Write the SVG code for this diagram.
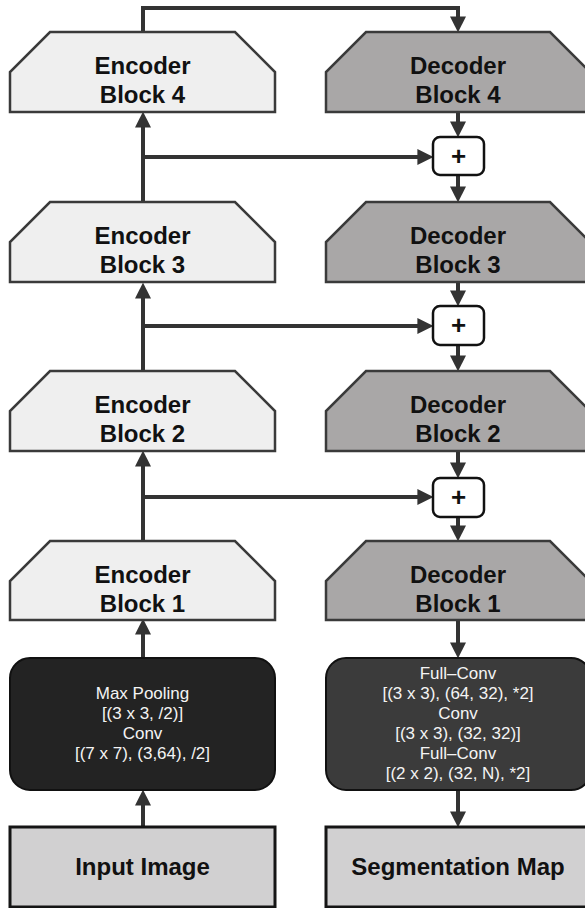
<svg xmlns="http://www.w3.org/2000/svg" width="585" height="908" viewBox="0 0 585 908">
  <style>
    .enc { fill: #efefef; stroke: #3a3a3a; stroke-width: 2.5; stroke-linejoin: miter; }
    .dec { fill: #a9a7a7; stroke: #3a3a3a; stroke-width: 2.5; stroke-linejoin: miter; }
    .title { font-family: "Liberation Sans", Arial, sans-serif; font-weight: 700; font-size: 24px; fill: #111; text-anchor: middle; }
    .io { fill: #d1d0d1; stroke: #151515; stroke-width: 3; }
    .conv-enc { fill: #232323; stroke: #111; stroke-width: 2; }
    .conv-dec { fill: #3b3b3b; stroke: #111; stroke-width: 2; }
    .small { font-family: "Liberation Sans", Arial, sans-serif; font-size: 17px; fill: #f4f4f4; text-anchor: middle; }
    .sum { fill: #ffffff; stroke: #111; stroke-width: 2.5; }
    .plus { font-family: "Liberation Sans", Arial, sans-serif; font-weight: 700; font-size: 26px; fill: #111; text-anchor: middle; }
    .wire { fill: none; stroke: #333; stroke-width: 4; stroke-linejoin: miter; }
    .wire-a { fill: none; stroke: #333; stroke-width: 4; marker-end: url(#head); }
  </style>
  <defs>
    <marker id="head" markerUnits="userSpaceOnUse" markerWidth="16" markerHeight="16" viewBox="0 0 15 15" refX="9" refY="7.5" orient="auto">
      <path d="M0,0 L15,7.5 L0,15 z" fill="#333"/>
    </marker>
  </defs>

  <!-- connectors -->
  <g id="connectors">
    <!-- bridge from the top encoder to the top decoder -->
    <path class="wire-a" d="M143,32 V8 H458 V26"/>
    <!-- encoder trunk -->
    <line class="wire-a" x1="143" y1="827" x2="143" y2="796"/>
    <line class="wire-a" x1="143" y1="658" x2="143" y2="625"/>
    <line class="wire-a" x1="143" y1="541" x2="143" y2="457"/>
    <line class="wire-a" x1="143" y1="371" x2="143" y2="289"/>
    <line class="wire-a" x1="143" y1="202" x2="143" y2="118"/>
    <!-- skip connections -->
    <line class="wire-a" x1="143" y1="157" x2="427" y2="157"/>
    <line class="wire-a" x1="143" y1="326" x2="427" y2="326"/>
    <line class="wire-a" x1="143" y1="497" x2="427" y2="497"/>
    <!-- decoder path -->
    <line class="wire-a" x1="458" y1="112" x2="458" y2="131"/>
    <line class="wire-a" x1="458" y1="175" x2="458" y2="196"/>
    <line class="wire-a" x1="458" y1="283" x2="458" y2="300"/>
    <line class="wire-a" x1="458" y1="345" x2="458" y2="365"/>
    <line class="wire-a" x1="458" y1="451" x2="458" y2="472"/>
    <line class="wire-a" x1="458" y1="517" x2="458" y2="535"/>
    <line class="wire-a" x1="458" y1="620" x2="458" y2="652"/>
    <line class="wire-a" x1="458" y1="790" x2="458" y2="821"/>
  </g>

  <!-- encoder blocks -->
  <g id="encoder-4">
    <polygon class="enc" points="50,32 235,32 275,72 275,112 10,112 10,72"/>
    <text class="title" x="142.5" y="74">Encoder</text>
    <text class="title" x="142.5" y="103">Block 4</text>
  </g>
  <g id="encoder-3">
    <polygon class="enc" points="50,202 235,202 275,242 275,282 10,282 10,242"/>
    <text class="title" x="142.5" y="244">Encoder</text>
    <text class="title" x="142.5" y="273">Block 3</text>
  </g>
  <g id="encoder-2">
    <polygon class="enc" points="50,371 235,371 275,411 275,451 10,451 10,411"/>
    <text class="title" x="142.5" y="413">Encoder</text>
    <text class="title" x="142.5" y="442">Block 2</text>
  </g>
  <g id="encoder-1">
    <polygon class="enc" points="50,541 235,541 275,581 275,620 10,620 10,581"/>
    <text class="title" x="142.5" y="583">Encoder</text>
    <text class="title" x="142.5" y="612">Block 1</text>
  </g>

  <!-- decoder blocks -->
  <g id="decoder-4">
    <polygon class="dec" points="366,32 550,32 590,72 590,112 326,112 326,72"/>
    <text class="title" x="458" y="74">Decoder</text>
    <text class="title" x="458" y="103">Block 4</text>
  </g>
  <g id="decoder-3">
    <polygon class="dec" points="366,202 550,202 590,242 590,282 326,282 326,242"/>
    <text class="title" x="458" y="244">Decoder</text>
    <text class="title" x="458" y="273">Block 3</text>
  </g>
  <g id="decoder-2">
    <polygon class="dec" points="366,371 550,371 590,411 590,451 326,451 326,411"/>
    <text class="title" x="458" y="413">Decoder</text>
    <text class="title" x="458" y="442">Block 2</text>
  </g>
  <g id="decoder-1">
    <polygon class="dec" points="366,541 550,541 590,581 590,620 326,620 326,581"/>
    <text class="title" x="458" y="583">Decoder</text>
    <text class="title" x="458" y="612">Block 1</text>
  </g>

  <!-- element-wise sums -->
  <g id="sum-4">
    <rect class="sum" x="433" y="137" width="51" height="38" rx="7"/>
    <text class="plus" x="458.5" y="165">+</text>
  </g>
  <g id="sum-3">
    <rect class="sum" x="433" y="306" width="51" height="39" rx="7"/>
    <text class="plus" x="458.5" y="334">+</text>
  </g>
  <g id="sum-2">
    <rect class="sum" x="433" y="478" width="51" height="39" rx="7"/>
    <text class="plus" x="458.5" y="506">+</text>
  </g>

  <!-- stem and head convolutions -->
  <g id="encoder-stem">
    <rect class="conv-enc" x="10" y="658" width="265" height="132" rx="20"/>
    <text class="small" x="142.5" y="699">Max Pooling</text>
    <text class="small" x="142.5" y="719">[(3 x 3, /2)]</text>
    <text class="small" x="142.5" y="739">Conv</text>
    <text class="small" x="142.5" y="759">[(7 x 7), (3,64), /2]</text>
  </g>
  <g id="decoder-head">
    <rect class="conv-dec" x="326" y="658" width="265" height="132" rx="20"/>
    <text class="small" x="458" y="679">Full–Conv</text>
    <text class="small" x="458" y="699">[(3 x 3), (64, 32), *2]</text>
    <text class="small" x="458" y="719">Conv</text>
    <text class="small" x="458" y="739">[(3 x 3), (32, 32)]</text>
    <text class="small" x="458" y="759">Full–Conv</text>
    <text class="small" x="458" y="779">[(2 x 2), (32, N), *2]</text>
  </g>

  <!-- input and output -->
  <g id="input-image">
    <rect class="io" x="10" y="827" width="265" height="80"/>
    <text class="title" x="142.5" y="875">Input Image</text>
  </g>
  <g id="segmentation-map">
    <rect class="io" x="326" y="827" width="265" height="80"/>
    <text class="title" x="458" y="875">Segmentation Map</text>
  </g>
</svg>
